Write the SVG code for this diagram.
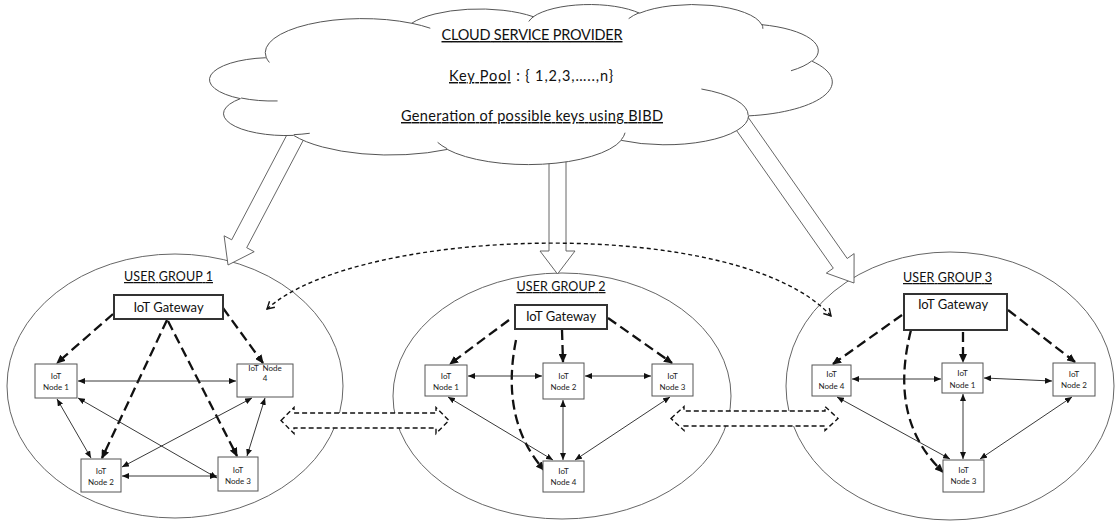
<svg xmlns="http://www.w3.org/2000/svg" width="1115" height="525" viewBox="0 0 1115 525">
<style>
text{font-family:Lato,"Liberation Sans",sans-serif;fill:#111}
.cl{font-size:14.5px;text-anchor:middle}
.u{text-decoration:underline}
.ug{font-size:12.5px;text-anchor:middle;text-decoration:underline}
.gwt{font-size:13px;text-anchor:middle}
.nt{font-size:8px;text-anchor:middle;fill:#222}
.grp{fill:#fff;stroke:#666;stroke-width:1}
.cloud{fill:#fff;stroke:#555;stroke-width:1}
.cin{fill:none;stroke:#555;stroke-width:1}
.big{fill:#fff;stroke:#555;stroke-width:0.9}
.blk{fill:#fff;stroke:#111;stroke-width:1.4;stroke-dasharray:5 3}
.node{fill:#fff;stroke:#555;stroke-width:1}
.gw{fill:#fff;stroke:#333;stroke-width:2}
.dsh{fill:none;stroke:#111;stroke-width:2.3;stroke-dasharray:10 5;marker-end:url(#ahd)}
.bi{fill:none;stroke:#222;stroke-width:0.9;marker-start:url(#ah);marker-end:url(#ah)}
.arc{fill:none;stroke:#111;stroke-width:1.4;stroke-dasharray:4 3;marker-start:url(#av);marker-end:url(#av)}
</style>
<defs>
<marker id="ah" markerUnits="userSpaceOnUse" markerWidth="7" markerHeight="6" refX="7" refY="3" orient="auto-start-reverse"><path d="M0,0L7,3L0,6z" fill="#111"/></marker>
<marker id="ahd" markerUnits="userSpaceOnUse" markerWidth="9" markerHeight="8" refX="8" refY="4" orient="auto"><path d="M0,0L9,4L0,8z" fill="#111"/></marker>
<marker id="av" markerUnits="userSpaceOnUse" markerWidth="10" markerHeight="10" refX="8" refY="5" orient="auto-start-reverse"><path d="M1,1L8,5L1,9" fill="none" stroke="#111" stroke-width="1.4"/></marker>
</defs>

<g id="group-ellipses">
<ellipse id="ellipse-g1" class="grp" cx="175" cy="386" rx="168" ry="132"/>
<ellipse id="ellipse-g2" class="grp" cx="562" cy="396" rx="169" ry="123"/>
<ellipse id="ellipse-g3" class="grp" cx="950" cy="386" rx="164" ry="134"/>
</g>

<g id="cloud-arrows">
<polygon class="big" points="305.5,136 246.7,247.7 254.2,251.7 228,265 224.1,235.8 231.7,239.8 290.5,128"/>
<polygon class="big" points="549,150 549,251 540,251 557.5,274 575,251 566,251 566,150"/>
<polygon class="big" points="734,126.9 833.3,268.2 826.3,273.1 854,283 854.1,253.6 847.2,258.5 748,117.1"/>
</g>

<g id="cloud">
<path class="cloud" d="M266.15,57.22 A97.23,34.04 0 0 1 411.65,23.27 A76.78,26.91 0 0 1 533.34,16.72 A62.85,22.02 0 0 1 639.54,13.19 A69.93,24.43 0 0 1 761.71,24.66 A76.78,26.94 0 0 1 812.11,61.26 A97.55,34.15 0 0 1 748.55,115.87 A83.29,29.14 0 0 1 621.15,140.35 A97.22,34.13 0 0 1 447.3,149.43 A111.15,39.05 0 0 1 293.59,135.39 A62.78,21.92 0 0 1 240.42,98.65 A62.56,22.02 0 0 1 265.62,57.74 Z"/>
<path class="cin" d="M277.57,100.95 A62.56,22.02 0 0 1 241.1,98 M309.75,133.26 A62.78,21.92 0 0 1 293.79,134.67 M447.25,148.78 A97.22,34.13 0 0 1 437.63,142.33 M625.06,132.71 A97.22,34.13 0 0 1 621.22,139.78 M701.4,89.01 A83.29,29.14 0 0 1 748.2,115.44 M811.82,60.87 A76.78,26.94 0 0 1 790.97,70.78 M761.79,24.1 A69.93,24.43 0 0 1 762.89,28.78 M628.67,18.64 A69.93,24.43 0 0 1 639.35,12.67 M528.79,21.48 A62.85,22.02 0 0 1 533.96,16.33 M411.57,23.23 A97.23,34.04 0 0 1 430.3,28.23 M269.42,62.48 A97.23,34.04 0 0 1 266.16,57.23"/>
<text class="cl u" x="532" y="40" textLength="181">CLOUD SERVICE PROVIDER</text>
<text class="cl" x="531" y="81" textLength="164"><tspan class="u">Key Pool</tspan> : { 1,2,3,…..,n}</text>
<text class="cl u" x="532" y="121" textLength="262">Generation of possible keys using BIBD</text>
</g>

<g id="connectors">
<path class="arc" d="M267,309 C360,225 740,215 831,316"/>
<polygon class="blk" points="281,420.5 294,407.5 294,413 436,413 436,407.5 449,420.5 436,433.5 436,428 294,428 294,433.5"/>
<polygon class="blk" points="671,418.5 684,406.5 684,411 825,411 825,406.5 838,418.5 825,430.5 825,426 684,426 684,430.5"/>
<!-- group 1 -->
<line class="dsh" x1="113" y1="314" x2="57" y2="363"/>
<line class="dsh" x1="223" y1="308" x2="263" y2="363"/>
<line class="dsh" x1="167" y1="320" x2="102" y2="458"/>
<line class="dsh" x1="168" y1="321" x2="237" y2="456"/>
<line class="bi" x1="78" y1="381" x2="236" y2="381"/>
<line class="bi" x1="57" y1="399" x2="91" y2="458"/>
<line class="bi" x1="78" y1="398" x2="217" y2="478"/>
<line class="bi" x1="252" y1="398" x2="122" y2="467"/>
<line class="bi" x1="265" y1="398" x2="247" y2="456"/>
<line class="bi" x1="122" y1="476" x2="217" y2="476"/>
<!-- group 2 -->
<line class="dsh" x1="509" y1="320" x2="450" y2="364"/>
<line class="dsh" x1="562" y1="330" x2="563" y2="362"/>
<line class="dsh" x1="608" y1="318" x2="672" y2="363"/>
<path class="dsh" d="M516,340 Q500,420 544,470"/>
<line class="bi" x1="468" y1="376" x2="542" y2="376"/>
<line class="bi" x1="585" y1="376" x2="651" y2="376"/>
<line class="bi" x1="448" y1="397" x2="553" y2="460"/>
<line class="bi" x1="563" y1="400" x2="563" y2="460"/>
<line class="bi" x1="670" y1="397" x2="575" y2="460"/>
<!-- group 3 -->
<line class="dsh" x1="902" y1="315" x2="833" y2="364"/>
<line class="dsh" x1="963" y1="332" x2="963" y2="362"/>
<line class="dsh" x1="1008" y1="310" x2="1075" y2="362"/>
<path class="dsh" d="M911,330 Q888,420 943,472"/>
<line class="bi" x1="852" y1="379" x2="941" y2="379"/>
<line class="bi" x1="984" y1="378" x2="1052" y2="381"/>
<line class="bi" x1="837" y1="397" x2="950" y2="459"/>
<line class="bi" x1="963" y1="394" x2="963" y2="459"/>
<line class="bi" x1="1072" y1="397" x2="980" y2="459"/>
</g>

<g id="g1-label"><text class="ug" x="168.5" y="281" textLength="89">USER GROUP 1</text></g>
<g id="g1-gateway"><rect class="gw" x="114" y="295" width="109" height="24"/><text class="gwt" x="168.5" y="312">IoT Gateway</text></g>
<g id="g1-node1"><rect class="node" x="35" y="364" width="42" height="34"/><text class="nt" x="56" y="379">IoT</text><text class="nt" x="56" y="390">Node 1</text></g>
<g id="g1-node4"><rect class="node" x="237" y="364" width="56" height="33"/><text class="nt" x="265" y="370.5" xml:space="preserve">IoT  Node</text><text class="nt" x="265" y="381">4</text></g>
<g id="g1-node2"><rect class="node" x="81" y="459" width="40" height="33"/><text class="nt" x="101" y="474">IoT</text><text class="nt" x="101" y="485">Node 2</text></g>
<g id="g1-node3"><rect class="node" x="218" y="457" width="40" height="34"/><text class="nt" x="238" y="473">IoT</text><text class="nt" x="238" y="484">Node 3</text></g>

<g id="g2-label"><text class="ug" x="561" y="291" textLength="89">USER GROUP 2</text></g>
<g id="g2-gateway"><rect class="gw" x="515" y="305" width="92" height="24"/><text class="gwt" x="561" y="321">IoT Gateway</text></g>
<g id="g2-node1"><rect class="node" x="425" y="365" width="42" height="31"/><text class="nt" x="446" y="379">IoT</text><text class="nt" x="446" y="390">Node 1</text></g>
<g id="g2-node2"><rect class="node" x="543" y="363" width="41" height="36"/><text class="nt" x="563.5" y="379">IoT</text><text class="nt" x="563.5" y="390">Node 2</text></g>
<g id="g2-node3"><rect class="node" x="652" y="364" width="41" height="32"/><text class="nt" x="672.5" y="379">IoT</text><text class="nt" x="672.5" y="390">Node 3</text></g>
<g id="g2-node4"><rect class="node" x="543" y="461" width="41" height="31"/><text class="nt" x="563.5" y="474">IoT</text><text class="nt" x="563.5" y="485">Node 4</text></g>

<g id="g3-label"><text class="ug" x="947.5" y="282" textLength="89">USER GROUP 3</text></g>
<g id="g3-gateway"><rect class="gw" x="904" y="294" width="103" height="36"/><text class="gwt" x="953" y="309">IoT Gateway</text></g>
<g id="g3-node4"><rect class="node" x="812" y="365" width="39" height="31"/><text class="nt" x="831.5" y="377">IoT</text><text class="nt" x="831.5" y="389">Node 4</text></g>
<g id="g3-node1"><rect class="node" x="942" y="363" width="41" height="30"/><text class="nt" x="962.5" y="376">IoT</text><text class="nt" x="962.5" y="388">Node 1</text></g>
<g id="g3-node2"><rect class="node" x="1053" y="363" width="42" height="33"/><text class="nt" x="1074" y="377">IoT</text><text class="nt" x="1074" y="388">Node 2</text></g>
<g id="g3-node3"><rect class="node" x="943" y="460" width="41" height="32"/><text class="nt" x="963.5" y="473">IoT</text><text class="nt" x="963.5" y="484">Node 3</text></g>
</svg>
